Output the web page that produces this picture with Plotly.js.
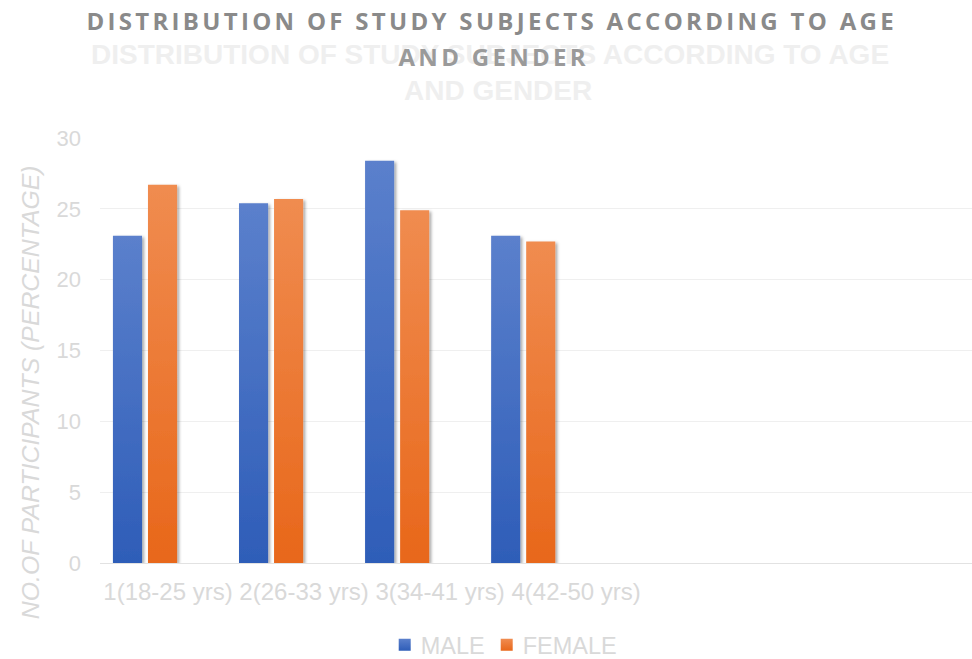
<!DOCTYPE html>
<html>
<head>
<meta charset="utf-8">
<script src="https://cdn.plot.ly/plotly-3.0.1.min.js"></script>
<style>
  html, body { margin: 0; padding: 0; background: #ffffff; }
  #chart { width: 972px; height: 659px; }
</style>
</head>
<body>
<div id="chart"></div>
<script>
// Age groups and the share of participants (%) in each, by gender
var categories = ['1(18-25 yrs)', '2(26-33 yrs)', '3(34-41 yrs)', '4(42-50 yrs)'];
var male = [23.1, 25.4, 28.4, 23.1];
var female = [26.7, 25.7, 24.9, 22.7];
var seriesNames = ['MALE', 'FEMALE'];
var yTicks = [0, 5, 10, 15, 20, 25, 30];

var titleText = 'DISTRIBUTION OF STUDY SUBJECTS ACCORDING TO AGE';
var titleText2 = 'AND GENDER';
var yTitle = 'NO.OF PARTICIPANTS (PERCENTAGE)';

var positions = categories.map(function (c, i) { return i; });

var traces = [
  {
    type: 'bar', name: seriesNames[0], x: positions, y: male,
    marker: { color: '#4472C4' }, hoverinfo: 'y'
  },
  {
    type: 'bar', name: seriesNames[1], x: positions, y: female,
    marker: { color: '#ED7D31' }, hoverinfo: 'y'
  },
  // carries the category labels on their own, slightly wider-spaced axis
  {
    type: 'scatter', mode: 'markers', x: positions, y: male, xaxis: 'x2',
    marker: { opacity: 0 }, showlegend: false, hoverinfo: 'skip'
  }
];

var tickFont = { family: 'Liberation Sans, Arial, sans-serif', size: 22, color: '#d9d9d9' };
var catFont = { family: 'Liberation Sans, Arial, sans-serif', size: 24, color: '#d9d9d9' };

var layout = {
  width: 972, height: 659,
  paper_bgcolor: '#ffffff', plot_bgcolor: '#ffffff',
  margin: { l: 100, r: 0, t: 138, b: 96 },
  barmode: 'group', bargap: 0.444, bargroupgap: 0.17,
  showlegend: true,
  legend: {
    orientation: 'h', x: 0.3265, xanchor: 'left',
    yref: 'container', y: 0.0212, yanchor: 'middle',
    font: { family: 'Liberation Sans, Arial, sans-serif', size: 23.5, color: '#d9d9d9' },
    itemclick: false, itemdoubleclick: false
  },
  xaxis: {
    range: [-0.357, 6.56], tickvals: positions, showticklabels: false,
    showgrid: false, zeroline: false, showline: true, linecolor: '#e2e2e2', linewidth: 1,
    ticks: '', fixedrange: true
  },
  xaxis2: {
    overlaying: 'x', anchor: 'y', side: 'bottom',
    range: [-0.5, 5.91], tickvals: positions, ticktext: categories,
    showgrid: false, zeroline: false, showline: false,
    ticks: '', tickfont: catFont, ticklabelstandoff: 12, fixedrange: true
  },
  yaxis: {
    range: [0, 30], tickvals: yTicks, showgrid: true, gridcolor: '#efefef', gridwidth: 1,
    zeroline: false, showline: false, ticks: '', tickfont: tickFont,
    ticklabelstandoff: 18, fixedrange: true
  },
  annotations: [
    {
      text: titleText, xref: 'paper', yref: 'paper', x: 0.4472, y: 1.1953,
      xanchor: 'center', yanchor: 'middle', showarrow: false,
      font: { family: 'Liberation Sans, Arial, sans-serif', size: 28, weight: 'bold', color: '#efefef' }
    },
    {
      text: titleText2, xref: 'paper', yref: 'paper', x: 0.4564, y: 1.1106,
      xanchor: 'center', yanchor: 'middle', showarrow: false,
      font: { family: 'Liberation Sans, Arial, sans-serif', size: 28, weight: 'bold', color: '#efefef' }
    },
    {
      text: titleText, xref: 'paper', yref: 'paper', x: 0.4495, y: 1.2776,
      xanchor: 'center', yanchor: 'middle', showarrow: false,
      font: { family: 'Open Sans, sans-serif', size: 24, weight: 'bold', color: '#8a8a8a' }
    },
    {
      text: titleText2, xref: 'paper', yref: 'paper', x: 0.4518, y: 1.1906,
      xanchor: 'center', yanchor: 'middle', showarrow: false,
      font: { family: 'Open Sans, sans-serif', size: 24, weight: 'bold', color: '#9a9a9a' }
    },
    {
      text: yTitle, xref: 'paper', yref: 'paper', x: -0.0803, y: 0.402,
      xanchor: 'center', yanchor: 'middle', showarrow: false, textangle: -90,
      font: { family: 'Liberation Sans, Arial, sans-serif', size: 24.8, style: 'italic', color: '#d9d9d9' }
    }
  ]
};

var config = { staticPlot: true, responsive: false };

Plotly.newPlot('chart', traces, layout, config).then(function (gd) {
  var NS = 'http://www.w3.org/2000/svg';
  var svg = gd.querySelector('.main-svg');
  var defs = svg.querySelector('defs') || svg.insertBefore(document.createElementNS(NS, 'defs'), svg.firstChild);

  // vertical fills: lighter at the top, deeper at the base
  function addGradient(id, top, bottom) {
    var g = document.createElementNS(NS, 'linearGradient');
    g.setAttribute('id', id);
    g.setAttribute('x1', '0'); g.setAttribute('y1', '0');
    g.setAttribute('x2', '0'); g.setAttribute('y2', '1');
    [[0, top], [1, bottom]].forEach(function (s) {
      var stop = document.createElementNS(NS, 'stop');
      stop.setAttribute('offset', s[0]);
      stop.setAttribute('stop-color', s[1]);
      g.appendChild(stop);
    });
    defs.appendChild(g);
  }
  addGradient('fillMale', '#5b80cc', '#2e5db8');
  addGradient('fillFemale', '#f08c50', '#e8671a');

  var f = document.createElementNS(NS, 'filter');
  f.setAttribute('id', 'barShadow');
  f.setAttribute('x', '-20%'); f.setAttribute('y', '-5%');
  f.setAttribute('width', '150%'); f.setAttribute('height', '115%');
  var ds = document.createElementNS(NS, 'feDropShadow');
  ds.setAttribute('dx', '2'); ds.setAttribute('dy', '1.5');
  ds.setAttribute('stdDeviation', '1.6');
  ds.setAttribute('flood-color', '#000'); ds.setAttribute('flood-opacity', '0.35');
  f.appendChild(ds);
  defs.appendChild(f);

  var fills = ['url(#fillMale)', 'url(#fillFemale)'];
  gd.querySelectorAll('.barlayer .trace').forEach(function (tr, i) {
    tr.querySelectorAll('path').forEach(function (p) {
      p.style.fill = fills[i];
      p.style.filter = 'url(#barShadow)';
    });
  });

  // legend: gradient swatches, text tucked closer to its swatch
  gd.querySelectorAll('.legend .traces').forEach(function (tr, i) {
    tr.querySelectorAll('.legendpoints path').forEach(function (p) {
      if (fills[i]) p.style.fill = fills[i];
    });
    var label = tr.querySelector('.legendtext');
    if (label) label.setAttribute('x', 36);
    if (i > 0) {
      var m = /translate\(([-\d.]+)[ ,]+([-\d.]+)\)/.exec(tr.getAttribute('transform') || '');
      if (m) tr.setAttribute('transform', 'translate(' + (parseFloat(m[1]) - 7 * i) + ',' + m[2] + ')');
    }
  });

  // widen the tracking of the dark heading
  var ann = gd.querySelectorAll('.annotation-text');
  [2, 3].forEach(function (k) {
    if (ann[k]) ann[k].style.letterSpacing = '3.3px';
  });
});
</script>
</body>
</html>
